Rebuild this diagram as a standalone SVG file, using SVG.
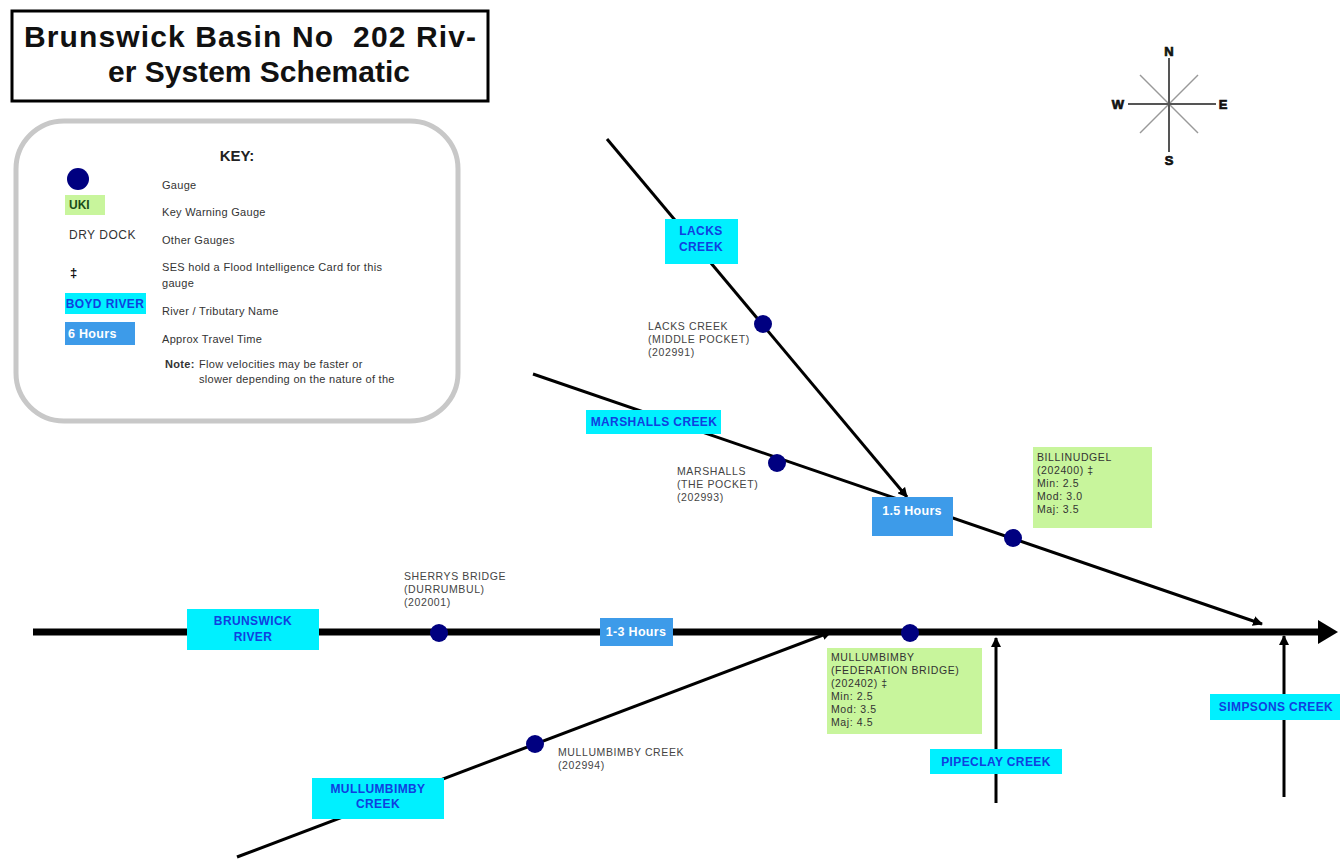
<svg xmlns="http://www.w3.org/2000/svg" width="1340" height="859" viewBox="0 0 1340 859">
<defs>
<marker id="ah" markerWidth="10" markerHeight="10" refX="9" refY="5" orient="auto" markerUnits="userSpaceOnUse"><path d="M0,0 L10,5 L0,10 Z" fill="#000"/></marker>
<marker id="ahBig" markerWidth="20" markerHeight="24" refX="2" refY="12" orient="auto" markerUnits="userSpaceOnUse"><path d="M0,0 L20,12 L0,24 Z" fill="#000"/></marker>
<style>
text{font-family:"Liberation Sans",Arial,sans-serif}
.river{fill:#00f0ff}
.rt{fill:#1040e0;font-weight:bold;font-size:12px;letter-spacing:0.4px;text-anchor:middle}
.tt{fill:#3d9be9}
.ttt{fill:#fff;font-weight:bold;font-size:12.5px;letter-spacing:0.3px;text-anchor:middle}
.gauge{fill:#000080}
.kw{fill:#c8f59c}
.kwt{fill:#333;font-size:10.5px;letter-spacing:0.6px}
.lbl{fill:#444;font-size:10.5px;letter-spacing:0.6px}
.key{fill:#333;font-size:11px;letter-spacing:0.3px}
.trib{stroke:#000;stroke-width:3;fill:none}
.cmp{font-size:13px;font-weight:bold;text-anchor:middle;fill:#111;stroke:#111;stroke-width:0.7px}
</style>
</defs>
<rect width="1340" height="859" fill="#fff"/>

<g id="title">
<rect x="12" y="11" width="476" height="90" fill="#fff" stroke="#000" stroke-width="3"/>
<text x="250" y="47" font-size="30" font-weight="bold" text-anchor="middle" fill="#111" xml:space="preserve" textLength="452" lengthAdjust="spacing">Brunswick Basin No  202 Riv-</text>
<text x="259" y="82" font-size="30" font-weight="bold" text-anchor="middle" fill="#111" textLength="302" lengthAdjust="spacing">er System Schematic</text>
</g>

<g id="legend">
<rect x="16" y="121" width="442" height="300" rx="48" fill="#fff" stroke="#c8c8c8" stroke-width="5"/>
<text x="237" y="161" font-size="15" font-weight="bold" text-anchor="middle" fill="#222">KEY:</text>
<circle cx="78" cy="179" r="11" class="gauge"/>
<rect x="65" y="195" width="40" height="20" class="kw"/>
<text x="69" y="209" font-size="12" font-weight="bold" fill="#1a4d1a">UKI</text>
<text x="69" y="239" font-size="12" letter-spacing="0.5" fill="#333">DRY DOCK</text>
<text x="70" y="277" font-size="13" font-weight="bold" fill="#111">‡</text>
<rect x="65" y="293" width="81" height="21" class="river"/>
<text x="105" y="308" class="rt" font-size="10.5" letter-spacing="0">BOYD RIVER</text>
<rect x="65" y="322" width="70" height="23" class="tt"/>
<text x="68" y="338" fill="#fff" font-weight="bold" font-size="12.5" letter-spacing="0.3">6 Hours</text>
<text x="162" y="189" class="key">Gauge</text>
<text x="162" y="216" class="key">Key Warning Gauge</text>
<text x="162" y="244" class="key">Other Gauges</text>
<text x="162" y="271" class="key">SES hold a Flood Intelligence Card for this</text>
<text x="162" y="287" class="key">gauge</text>
<text x="162" y="315" class="key">River / Tributary Name</text>
<text x="162" y="343" class="key">Approx Travel Time</text>
<text x="165" y="368" class="key" font-weight="bold" letter-spacing="0">Note:</text>
<text x="199" y="368" class="key">Flow velocities may be faster or</text>
<text x="199" y="383" class="key">slower depending on the nature of the</text>
</g>

<g id="compass">
<line x1="1140" y1="75" x2="1198" y2="133" stroke="#999" stroke-width="1.5"/>
<line x1="1198" y1="75" x2="1140" y2="133" stroke="#999" stroke-width="1.5"/>
<line x1="1169" y1="58" x2="1169" y2="152" stroke="#555" stroke-width="2"/>
<line x1="1128" y1="104" x2="1216" y2="104" stroke="#555" stroke-width="2"/>
<text x="1169" y="56" class="cmp">N</text>
<text x="1169" y="165" class="cmp">S</text>
<text x="1118" y="109" class="cmp">W</text>
<text x="1223" y="109" class="cmp">E</text>
</g>

<g id="connectors">
<line x1="33" y1="632" x2="1320" y2="632" stroke="#000" stroke-width="7" marker-end="url(#ahBig)"/>
<line x1="607" y1="139" x2="907" y2="497" class="trib" marker-end="url(#ah)"/>
<line x1="533" y1="374" x2="1262" y2="624" class="trib" marker-end="url(#ah)"/>
<line x1="237" y1="857" x2="831" y2="632" class="trib" marker-end="url(#ah)"/>
<line x1="996" y1="803" x2="996" y2="638" class="trib" marker-end="url(#ah)"/>
<line x1="1284" y1="797" x2="1284" y2="636" class="trib" marker-end="url(#ah)"/>
</g>

<g id="brunswick-river">
<rect x="187" y="609" width="132" height="41" class="river"/>
<text x="253" y="625" class="rt">BRUNSWICK</text>
<text x="253" y="641" class="rt">RIVER</text>
</g>

<g id="sherrys-bridge">
<circle cx="439" cy="633" r="9" class="gauge"/>
<text x="404" y="580" class="lbl">SHERRYS BRIDGE</text>
<text x="404" y="593" class="lbl">(DURRUMBUL)</text>
<text x="404" y="606" class="lbl">(202001)</text>
</g>

<g id="tt-1-3">
<rect x="600" y="618" width="73" height="28" class="tt"/>
<text x="636" y="636" class="ttt">1-3 Hours</text>
</g>

<g id="mullumbimby-fed">
<circle cx="910" cy="633" r="9" class="gauge"/>
<rect x="827" y="648" width="155" height="86" class="kw"/>
<text x="831" y="661" class="kwt">MULLUMBIMBY</text>
<text x="831" y="674" class="kwt">(FEDERATION BRIDGE)</text>
<text x="831" y="687" class="kwt">(202402) ‡</text>
<text x="831" y="700" class="kwt">Min: 2.5</text>
<text x="831" y="713" class="kwt">Mod: 3.5</text>
<text x="831" y="726" class="kwt">Maj: 4.5</text>
</g>

<g id="mullumbimby-creek-gauge">
<circle cx="535" cy="744" r="9" class="gauge"/>
<text x="558" y="756" class="lbl">MULLUMBIMBY CREEK</text>
<text x="558" y="769" class="lbl">(202994)</text>
</g>

<g id="mullumbimby-creek">
<rect x="312" y="778" width="132" height="41" class="river"/>
<text x="378" y="793" class="rt">MULLUMBIMBY</text>
<text x="378" y="808" class="rt">CREEK</text>
</g>

<g id="pipeclay-creek">
<rect x="930" y="749" width="132" height="25" class="river"/>
<text x="996" y="766" class="rt">PIPECLAY CREEK</text>
</g>

<g id="simpsons-creek">
<rect x="1210" y="694" width="130" height="26" class="river"/>
<text x="1276" y="711" class="rt">SIMPSONS CREEK</text>
</g>

<g id="lacks-creek">
<rect x="665" y="219" width="73" height="45" class="river"/>
<text x="701" y="235" class="rt">LACKS</text>
<text x="701" y="251" class="rt">CREEK</text>
</g>

<g id="lacks-creek-gauge">
<circle cx="763" cy="324" r="9" class="gauge"/>
<text x="648" y="330" class="lbl">LACKS CREEK</text>
<text x="648" y="343" class="lbl">(MIDDLE POCKET)</text>
<text x="648" y="356" class="lbl">(202991)</text>
</g>

<g id="marshalls-creek">
<rect x="586" y="410" width="135" height="24" class="river"/>
<text x="654" y="426" class="rt">MARSHALLS CREEK</text>
</g>

<g id="marshalls-gauge">
<circle cx="777" cy="463" r="9" class="gauge"/>
<text x="677" y="475" class="lbl">MARSHALLS</text>
<text x="677" y="488" class="lbl">(THE POCKET)</text>
<text x="677" y="501" class="lbl">(202993)</text>
</g>

<g id="tt-1-5">
<rect x="872" y="497" width="81" height="39" class="tt"/>
<text x="912" y="515" class="ttt">1.5 Hours</text>
</g>

<g id="billinudgel">
<circle cx="1013" cy="538" r="9" class="gauge"/>
<rect x="1033" y="447" width="119" height="81" class="kw"/>
<text x="1037" y="461" class="kwt">BILLINUDGEL</text>
<text x="1037" y="474" class="kwt">(202400) ‡</text>
<text x="1037" y="487" class="kwt">Min: 2.5</text>
<text x="1037" y="500" class="kwt">Mod: 3.0</text>
<text x="1037" y="513" class="kwt">Maj: 3.5</text>
</g>
</svg>
